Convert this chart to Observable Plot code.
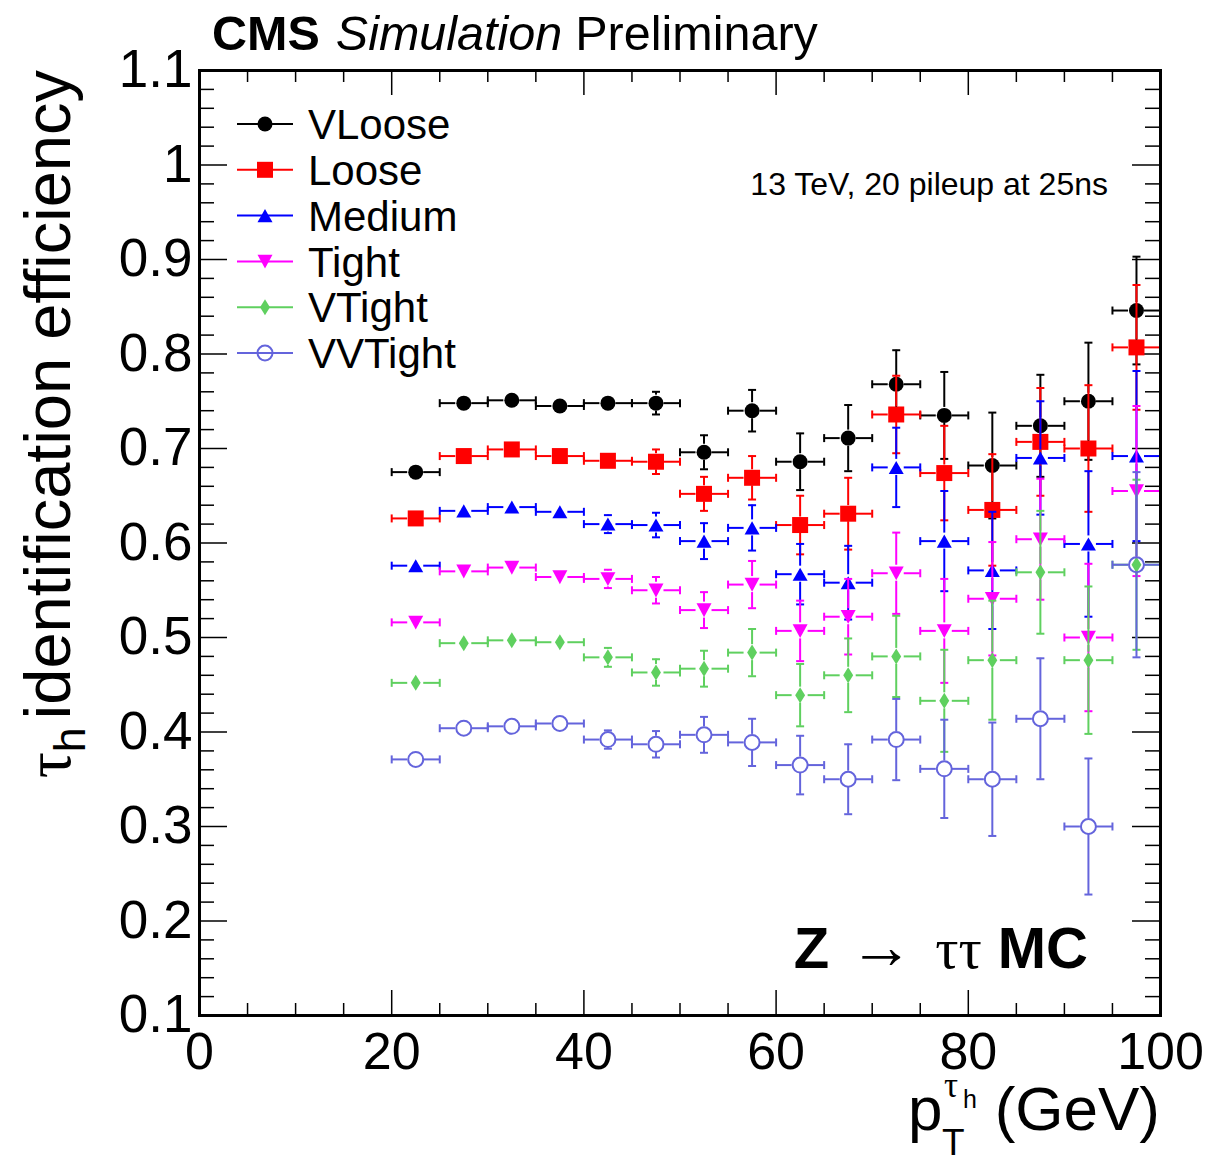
<!DOCTYPE html>
<html><head><meta charset="utf-8">
<script src="https://cdn.jsdelivr.net/npm/d3@7"></script>
<script src="https://cdn.jsdelivr.net/npm/@observablehq/plot@0.6"></script>
<style>body{margin:0;background:#fff} svg{display:block}</style>
</head><body><div id="chart"></div>
<script>
// ---------- data ----------
const ptBins = [22.5, 27.5, 32.5, 37.5, 42.5, 47.5, 52.5, 57.5, 62.5, 67.5, 72.5, 77.5, 82.5, 87.5, 92.5, 97.5];
const binHalfWidth = 2.5;

const vlooseEff = [0.675, 0.748, 0.751, 0.745, 0.748, 0.748, 0.696, 0.740, 0.686, 0.711, 0.768, 0.735, 0.682, 0.724, 0.750, 0.846];
const vlooseErr = [0.004, 0.005, 0.005, 0.006, 0.007, 0.012, 0.018, 0.022, 0.030, 0.035, 0.036, 0.046, 0.056, 0.054, 0.062, 0.057];

const looseEff = [0.626, 0.692, 0.699, 0.692, 0.687, 0.686, 0.652, 0.669, 0.619, 0.631, 0.736, 0.674, 0.635, 0.707, 0.700, 0.807];
const looseErr = [0.004, 0.005, 0.006, 0.006, 0.007, 0.013, 0.018, 0.023, 0.031, 0.038, 0.041, 0.050, 0.059, 0.057, 0.067, 0.066];

const mediumEff = [0.576, 0.634, 0.638, 0.633, 0.620, 0.619, 0.602, 0.616, 0.567, 0.558, 0.680, 0.602, 0.571, 0.690, 0.599, 0.692];
const mediumErr = [0.004, 0.005, 0.006, 0.007, 0.0095, 0.013, 0.019, 0.024, 0.032, 0.039, 0.042, 0.053, 0.062, 0.060, 0.077, 0.090];

const tightEff = [0.516, 0.570, 0.574, 0.564, 0.562, 0.550, 0.529, 0.556, 0.507, 0.522, 0.568, 0.507, 0.541, 0.604, 0.500, 0.655];
const tightErr = [0.004, 0.005, 0.006, 0.007, 0.0097, 0.014, 0.019, 0.025, 0.032, 0.040, 0.043, 0.055, 0.060, 0.064, 0.078, 0.090];

const vtightEff = [0.452, 0.494, 0.497, 0.495, 0.479, 0.463, 0.467, 0.484, 0.439, 0.460, 0.480, 0.433, 0.476, 0.569, 0.476, 0.577];
const vtightErr = [0.004, 0.005, 0.006, 0.007, 0.010, 0.014, 0.019, 0.025, 0.033, 0.039, 0.043, 0.054, 0.063, 0.065, 0.078, 0.090];

const vvtightEff = [0.371, 0.404, 0.406, 0.409, 0.392, 0.387, 0.397, 0.389, 0.365, 0.350, 0.392, 0.361, 0.350, 0.414, 0.300, 0.577];
const vvtightErr = [0.004, 0.005, 0.006, 0.007, 0.0097, 0.014, 0.019, 0.025, 0.031, 0.037, 0.043, 0.052, 0.060, 0.064, 0.072, 0.098];

const seriesNames = ["VLoose", "Loose", "Medium", "Tight", "VTight", "VVTight"];
const seriesEff = [vlooseEff, looseEff, mediumEff, tightEff, vtightEff, vvtightEff];
const seriesErr = [vlooseErr, looseErr, mediumErr, tightErr, vtightErr, vvtightErr];
const seriesColors = ["#000000", "#ff0000", "#0000ff", "#ff00ff", "#5fd05f", "#6464dc"];

const xTicks = [0, 20, 40, 60, 80, 100];
const yTicks = [0.1, 0.2, 0.3, 0.4, 0.5, 0.6, 0.7, 0.8, 0.9, 1.0, 1.1];

// ---------- layout ----------
const W = 1208, H = 1163, ML = 199, MR = 48, MT = 70, MB = 148;
const FW = W - ML - MR, FH = H - MT - MB;
const FONT = "'Liberation Sans', Arial, Helvetica, sans-serif";
const SERIF = "'Liberation Serif', 'DejaVu Serif', serif";

const xMinor = d3.range(0, 101, 5).filter(v => v % 20 !== 0);
const yMinor = d3.range(10, 111, 2).filter(v => v % 10 !== 0).map(v => v / 100);

// ---------- symbols ----------
function sym(fn) { return {draw(ctx, size) { const h = Math.sqrt(size / Math.PI); fn(ctx, h); }}; }
const symCircle = sym((c, h) => { c.moveTo(h, 0); c.arc(0, 0, h, 0, 2 * Math.PI); c.closePath(); });
const symSquare = sym((c, h) => { c.moveTo(-h, -h); c.lineTo(h, -h); c.lineTo(h, h); c.lineTo(-h, h); c.closePath(); });
const symTriUp = sym((c, h) => { c.moveTo(0, -0.87 * h); c.lineTo(h, 0.87 * h); c.lineTo(-h, 0.87 * h); c.closePath(); });
const symTriDown = sym((c, h) => { c.moveTo(0, 0.95 * h); c.lineTo(h, -0.9 * h); c.lineTo(-h, -0.9 * h); c.closePath(); });
const symDiamond = sym((c, h) => { c.moveTo(0, -h); c.lineTo(0.62 * h, 0); c.lineTo(0, h); c.lineTo(-0.62 * h, 0); c.closePath(); });
const symHCap = sym((c, h) => { c.moveTo(-h, 0); c.lineTo(h, 0); });
const symVCap = sym((c, h) => { c.moveTo(0, -h); c.lineTo(0, h); });

const markerSpec = [
  {symbol: symCircle, r: 7.5, filled: true},
  {symbol: symSquare, r: 8, filled: true},
  {symbol: symTriUp, r: 7.5, filled: true},
  {symbol: symTriDown, r: 7.5, filled: true},
  {symbol: symDiamond, r: 8, filled: true},
  {symbol: symCircle, r: 7.5, filled: false}
];

// ---------- marks ----------
const gap = 8;
const marks = [];

seriesNames.forEach((name, k) => {
  const col = seriesColors[k];
  const rows = ptBins.map((x, i) => ({x, y: seriesEff[k][i], e: seriesErr[k][i], lo: x - binHalfWidth, hi: x + binHalfWidth}));
  const big = rows.filter(d => d.e * FH > gap);
  const ls = {stroke: col, strokeWidth: 2};
  marks.push(
    Plot.ruleY(rows, {x1: "lo", x2: "x", y: "y", insetRight: gap, ...ls}),
    Plot.ruleY(rows, {x1: "x", x2: "hi", y: "y", insetLeft: gap, ...ls}),
    Plot.dot(rows, {x: "lo", y: "y", symbol: symVCap, r: 4, fill: "none", ...ls}),
    Plot.dot(rows, {x: "hi", y: "y", symbol: symVCap, r: 4, fill: "none", ...ls}),
    Plot.ruleX(big, {x: "x", y1: d => d.y + d.e, y2: "y", insetBottom: gap, ...ls}),
    Plot.ruleX(big, {x: "x", y1: "y", y2: d => d.y - d.e, insetTop: gap, ...ls}),
    Plot.dot(big, {x: "x", y: d => d.y + d.e, symbol: symHCap, r: 4, fill: "none", ...ls}),
    Plot.dot(big, {x: "x", y: d => d.y - d.e, symbol: symHCap, r: 4, fill: "none", ...ls})
  );
  const m = markerSpec[k];
  marks.push(Plot.dot(rows, {
    x: "x", y: "y", symbol: m.symbol, r: m.r,
    fill: m.filled ? col : "none",
    stroke: m.filled ? "none" : col,
    strokeWidth: m.filled ? 0 : 2
  }));
});

const tickStyle = {stroke: "#000", strokeWidth: 1.5};
const plotEl = Plot.plot({
  width: W, height: H,
  marginLeft: ML, marginRight: MR, marginTop: MT, marginBottom: MB,
  x: {domain: [0, 100]},
  y: {domain: [0.1, 1.1]},
  style: {fontFamily: FONT, background: "#fff", color: "#000", overflow: "visible"},
  marks: [
    Plot.tickX(xTicks, {x: d => d, insetTop: FH - 25, ...tickStyle}),
    Plot.tickX(xMinor, {x: d => d, insetTop: FH - 12, ...tickStyle}),
    Plot.tickX(xTicks, {x: d => d, insetBottom: FH - 25, ...tickStyle}),
    Plot.tickX(xMinor, {x: d => d, insetBottom: FH - 12, ...tickStyle}),
    Plot.tickY(yTicks, {y: d => d, insetRight: FW - 28, ...tickStyle}),
    Plot.tickY(yMinor, {y: d => d, insetRight: FW - 15, ...tickStyle}),
    Plot.tickY(yTicks, {y: d => d, insetLeft: FW - 28, ...tickStyle}),
    Plot.tickY(yMinor, {y: d => d, insetLeft: FW - 15, ...tickStyle}),
    ...marks,
    Plot.frame({stroke: "#000", strokeWidth: 3}),
    Plot.axisX({ticks: xTicks, tickSize: 0, tickPadding: 17, fontSize: 52, tickFormat: d => String(d), label: null}),
    Plot.axisY({ticks: yTicks, tickSize: 0, tickPadding: 7, fontSize: 53, tickFormat: d => String(+d.toFixed(1)), label: null})
  ]
});
document.getElementById("chart").appendChild(plotEl);

// ---------- annotations ----------
const svg = d3.select(plotEl);
const ann = svg.append("g").attr("font-family", FONT).attr("fill", "#000").attr("text-anchor", "start");

// header
const hdr = ann.append("text").attr("x", 212).attr("y", 50).attr("font-size", 48.5);
hdr.append("tspan").attr("font-weight", "bold").text("CMS");
hdr.append("tspan").attr("font-style", "italic").attr("dx", 16).text("Simulation");
hdr.append("tspan").attr("dx", 13).text("Preliminary");

// energy / pileup text
ann.append("text").attr("x", 1108).attr("y", 195).attr("text-anchor", "end").attr("font-size", 32)
  .text("13 TeV, 20 pileup at 25ns");

// process label
const proc = ann.append("text").attr("x", 1088).attr("y", 968).attr("text-anchor", "end").attr("font-size", 58);
proc.append("tspan").attr("font-weight", "bold").text("Z");
proc.append("tspan").attr("font-family", SERIF).attr("font-size", 64).attr("dx", 20).text("\u2192");
proc.append("tspan").attr("font-family", SERIF).attr("dx", 22).text("\u03C4\u03C4");
proc.append("tspan").attr("font-weight", "bold").attr("dx", 16).text("MC");

// y title
const yt = ann.append("text").attr("transform", "translate(70,70) rotate(-90)").attr("text-anchor", "end").attr("font-size", 65);
yt.append("tspan").attr("font-family", SERIF).text("\u03C4");
yt.append("tspan").attr("font-size", 45).attr("dy", 15).text("h");
yt.append("tspan").attr("dy", -15).attr("dx", 8).text("identification efficiency");

// x title: p_T^{tau_h} (GeV)
ann.append("text").attr("x", 908).attr("y", 1130).attr("font-size", 62).text("p");
ann.append("text").attr("x", 942).attr("y", 1155).attr("font-size", 37).text("T");
ann.append("text").attr("x", 944).attr("y", 1097).attr("font-size", 35)
  .attr("font-family", SERIF).text("\u03C4");
ann.append("text").attr("x", 963).attr("y", 1108).attr("font-size", 25).text("h");
ann.append("text").attr("x", 1160).attr("y", 1130).attr("text-anchor", "end").attr("font-size", 62).text("(GeV)");

// legend
const lg = ann.append("g");
seriesNames.forEach((name, k) => {
  const y = 124 + k * 45.8;
  const col = seriesColors[k];
  const m = markerSpec[k];
  lg.append("line").attr("x1", 237).attr("x2", 293).attr("y1", y).attr("y2", y)
    .attr("stroke", col).attr("stroke-width", 2);
  lg.append("path").attr("d", d3.symbol(m.symbol, Math.PI * m.r * m.r)())
    .attr("transform", `translate(265,${y})`)
    .attr("fill", m.filled ? col : "none")
    .attr("stroke", m.filled ? "none" : col)
    .attr("stroke-width", 2);
  lg.append("text").attr("x", 308).attr("y", y).attr("dy", "0.36em").attr("font-size", 42).text(name);
});
</script>
</body></html>
